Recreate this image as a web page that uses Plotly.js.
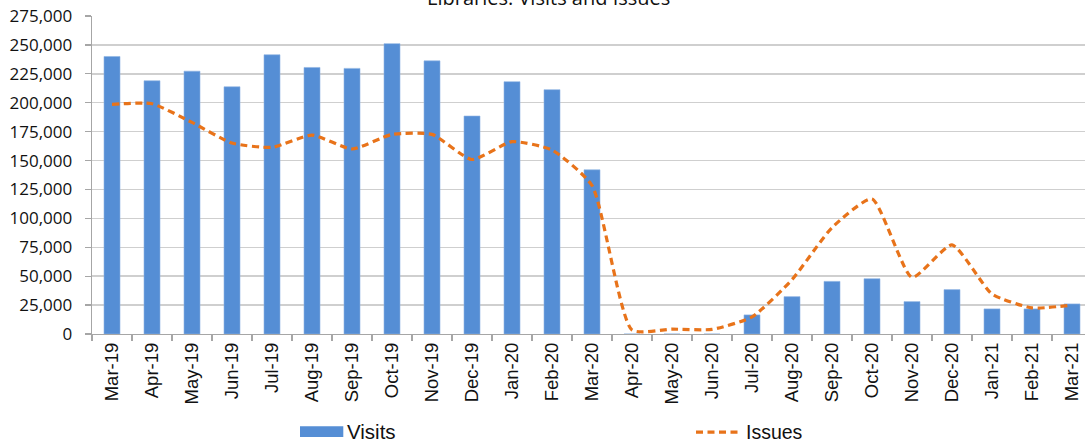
<!DOCTYPE html>
<html>
<head>
<meta charset="utf-8">
<script src="https://cdn.plot.ly/plotly-3.0.1.min.js"></script>
<style>
  html, body { margin: 0; padding: 0; overflow: hidden; background: #ffffff; }
  #chart { width: 1100px; height: 446px; }
</style>
</head>
<body>
<div id="chart"></div>
<script>
// Monthly library figures, March 2019 to March 2021
const months = ["Mar-19", "Apr-19", "May-19", "Jun-19", "Jul-19", "Aug-19", "Sep-19", "Oct-19",
  "Nov-19", "Dec-19", "Jan-20", "Feb-20", "Mar-20", "Apr-20", "May-20", "Jun-20", "Jul-20",
  "Aug-20", "Sep-20", "Oct-20", "Nov-20", "Dec-20", "Jan-21", "Feb-21", "Mar-21"];

const visits = [240000, 219000, 227300, 213800, 241500, 230500, 229700, 251100,
  236200, 188500, 218200, 211300, 142000, 0, 0, 0, 16500,
  32300, 45500, 47800, 28000, 38400, 21700, 21700, 26000];

const issues = [198600, 199100, 183000, 165100, 161400, 172000, 160000, 172600,
  172600, 150900, 166300, 159100, 128400, 3500, 4200, 4000, 14800,
  47000, 92000, 116800, 49000, 77000, 34600, 22600, 25000];

const seriesNames = ["Visits", "Issues"];
const chartTitle = "Libraries: Visits and Issues";

const blue = "#558ED5";
const orange = "#E8731A";

// Plot area spans 1000 px starting 92 px from the left edge
const plotLeft = 92, plotWidth = 1000, plotBottom = 334.5, plotHeight = 319;
const px = x => (x - plotLeft) / plotWidth;
const py = y => (plotBottom - y) / plotHeight;

const traces = [
  {
    type: "bar",
    name: seriesNames[0],
    x: months,
    y: visits,
    marker: { color: blue, line: { color: "#8fb4e3", width: 0.6 } },
    showlegend: false,
    hoverinfo: "x+y"
  },
  {
    type: "scatter",
    mode: "lines",
    name: seriesNames[1],
    x: months,
    y: issues,
    line: { color: orange, width: 3.2, dash: "7px,4.5px", shape: "spline", smoothing: 0.55 },
    showlegend: false,
    hoverinfo: "x+y"
  }
];

const layout = {
  width: 1100,
  height: 446,
  margin: { l: plotLeft, r: 8, t: 15.5, b: 111.5, pad: 0 },
  paper_bgcolor: "#ffffff",
  plot_bgcolor: "#ffffff",
  bargap: 0.6,
  showlegend: false,
  xaxis: {
    type: "category",
    tickangle: -90,
    tickson: "boundaries",
    ticks: "outside",
    ticklen: 6,
    tickcolor: "#a6a6a6",
    tickwidth: 1.3,
    showline: true,
    linecolor: "#a6a6a6",
    linewidth: 1.3,
    showgrid: false,
    zeroline: false,
    tickfont: { family: "Liberation Sans, Arial, sans-serif", size: 18.5, color: "#111111" },
    fixedrange: true
  },
  yaxis: {
    range: [0, 275000],
    dtick: 25000,
    tick0: 0,
    tickformat: ",d",
    ticks: "outside",
    ticklen: 6,
    tickcolor: "#a6a6a6",
    tickwidth: 1.3,
    showline: true,
    linecolor: "#a6a6a6",
    linewidth: 1.3,
    gridcolor: "#cfcfcf",
    gridwidth: 1.4,
    zeroline: false,
    ticklabelstandoff: 9,
    tickfont: { family: "Open Sans, sans-serif", size: 17, color: "#111111" },
    fixedrange: true
  },
  shapes: [
    // legend swatch: bar series
    { type: "rect", xref: "paper", yref: "paper",
      x0: px(300), x1: px(343.3), y0: py(437.7), y1: py(427),
      fillcolor: blue, line: { width: 0 } },
    // legend swatch: line series
    { type: "line", xref: "paper", yref: "paper",
      x0: px(696), x1: px(742), y0: py(433), y1: py(433),
      line: { color: orange, width: 3.2, dash: "7px,4.5px" } }
  ],
  annotations: [
    { text: chartTitle, xref: "paper", yref: "paper", x: px(548), y: 1,
      xanchor: "center", yanchor: "middle", yshift: 19, showarrow: false,
      font: { family: "Open Sans, sans-serif", size: 20, color: "#111111" } },
    { text: seriesNames[0], xref: "paper", yref: "paper", x: px(345), y: py(432),
      xanchor: "left", yanchor: "middle", showarrow: false,
      font: { family: "Liberation Sans, Arial, sans-serif", size: 20.5, color: "#111111" } },
    { text: seriesNames[1], xref: "paper", yref: "paper", x: px(744), y: py(432.5),
      xanchor: "left", yanchor: "middle", showarrow: false,
      font: { family: "Liberation Sans, Arial, sans-serif", size: 19.5, color: "#111111" } }
  ]
};

Plotly.newPlot("chart", traces, layout, { displayModeBar: false, staticPlot: true });
</script>
</body>
</html>
